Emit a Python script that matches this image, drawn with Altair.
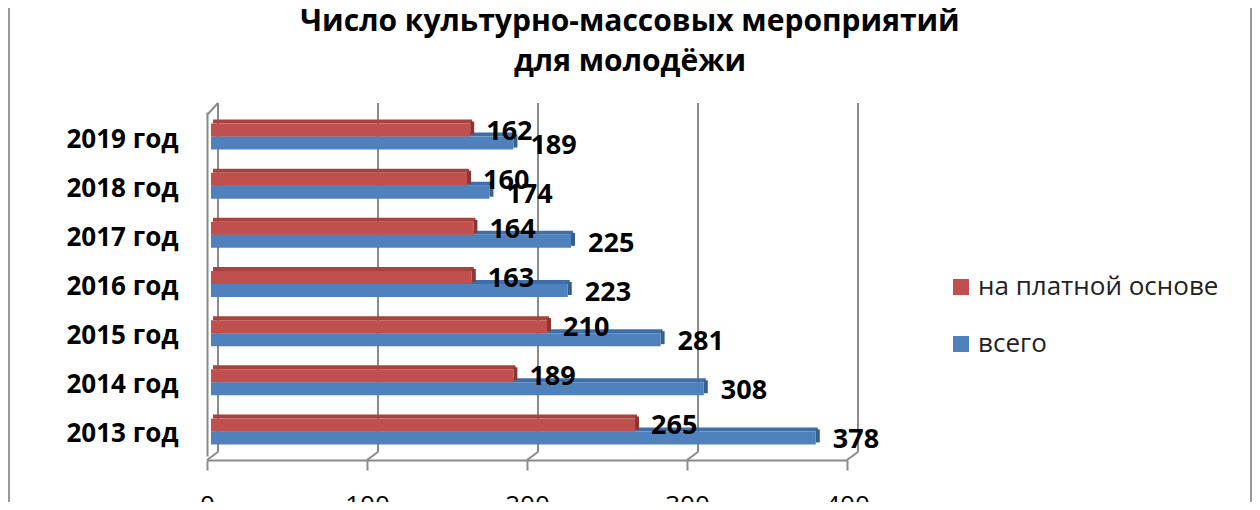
import altair as alt
import pandas as pd

years = ["2019 год", "2018 год", "2017 год\u2002", "2016 год", "2015 год", "2014 год", "2013 год"]
paid = [162, 160, 164, 163, 210, 189, 265]
total = [189, 174, 225, 223, 281, 308, 378]
series = ["на платной основе", "всего"]
tick_values = [0, 100, 200, 300, 400]
colors = ["#C0504D", "#4F81BD"]
top_colors = ["#A8423F", "#3F6FA6"]
cap_colors = ["#8E3532", "#355F93"]

rows = []
for y, p, t in zip(years, paid, total):
    rows.append({"year": y, "series": series[0], "value": p})
    rows.append({"year": y, "series": series[1], "value": t})
df = pd.DataFrame(rows)
ticks_df = pd.DataFrame({"t": tick_values})
one = pd.DataFrame({"a": [0]})

FONT = "Open Sans"
GRAY = "#8A8A8A"

xscale = alt.Scale(domain=[0, 400], nice=False, zero=True)
yscale = alt.Scale(domain=years, paddingInner=0, paddingOuter=0)

xaxis = alt.Axis(
    values=tick_values, grid=False, title=None, domainColor=GRAY, domainWidth=2,
    tickColor=GRAY, tickWidth=2, tickSize=10, labelFontSize=26, labelFont=FONT,
    labelColor="black", labelPadding=22, position=-4, offset=4, labelFlush=False)
yaxis = alt.Axis(
    title=None, ticks=False, domainColor=GRAY, domainWidth=2, labelFontSize=26,
    labelFont=FONT, labelFontWeight="bold", labelColor="black", labelPadding=29,
    offset=4, labelOffset=3, grid=False, labelLimit=300)

X = alt.X("value:Q", scale=xscale, axis=xaxis)
XT = alt.X("t:Q", scale=xscale, axis=xaxis)
Y = alt.Y("year:N", scale=yscale, axis=yaxis, sort=years)

COLOR = alt.Color("series:N", scale=alt.Scale(domain=series, range=colors),
                  legend=alt.Legend(orient="none", legendX=737, legendY=162, title=None,
                                    symbolType="square", symbolSize=256,
                                    symbolStrokeWidth=0, labelFontSize=26,
                                    labelFont=FONT, labelColor="#222222", labelLimit=400,
                                    rowPadding=31, labelOffset=4, padding=0))

base = alt.Chart(df)

# back gridlines
grid = alt.Chart(ticks_df).mark_rule(xOffset=7, color=GRAY, strokeWidth=2).encode(
    x=XT, y=alt.value(-9), y2=alt.value(340))

floor = alt.Chart(ticks_df).mark_rule(xOffset=7, x2Offset=-4, color=GRAY, strokeWidth=2).encode(
    x=XT, x2="t:Q", y=alt.value(340), y2=alt.value(348))

wall_top = alt.Chart(ticks_df).transform_filter("datum.t == 0").mark_rule(
    xOffset=-4, x2Offset=7, color=GRAY, strokeWidth=2).encode(
    x=XT, x2="t:Q", y=alt.value(3), y2=alt.value(-9))


def layers_for(i, front_off):
    d = base.transform_filter(alt.datum.series == series[i])
    top = d.mark_bar(size=4, yOffset=front_off - 8.5, xOffset=2, x2Offset=4,
                     color=top_colors[i]).encode(x=X, y=Y)
    cap = d.mark_bar(size=13, yOffset=front_off - 2, x2Offset=4, color=cap_colors[i]).encode(
        x=X, x2="value:Q", y=Y)
    front = d.mark_bar(size=13, yOffset=front_off).encode(x=X, y=Y, color=COLOR)
    return [top, cap, front]


blue = layers_for(1, 6.5)
red = layers_for(0, -6.5)

lab_red = base.transform_filter(alt.datum.series == series[0]).mark_text(
    align="left", baseline="middle", dx=16, dy=-5, fontSize=27, font=FONT,
    fontWeight="bold", color="black").encode(x=X, y=Y, text="value:Q")
lab_blue = base.transform_filter(alt.datum.series == series[1]).mark_text(
    align="left", baseline="middle", dx=17, dy=9, fontSize=27, font=FONT,
    fontWeight="bold", color="black").encode(x=X, y=Y, text="value:Q")

frame_l = alt.Chart(one).mark_rule(color="#9A9A9A", strokeWidth=2).encode(
    x=alt.value(-202), y=alt.value(-104), y2=alt.value(390))
frame_r = alt.Chart(one).mark_rule(color="#9A9A9A", strokeWidth=2).encode(
    x=alt.value(1040), y=alt.value(-104), y2=alt.value(390))

chart = alt.layer(
    grid, floor, wall_top, *blue, *red, lab_red, lab_blue, frame_l, frame_r
).properties(
    width=640, height=344,
    padding={"left": 203, "top": 104, "right": 401, "bottom": 46},
    autosize=alt.AutoSizeParams(type="none"),
    background="white",
    title=alt.TitleParams(["Число культурно-массовых мероприятий", "для молодёжи"],
                          fontSize=30, font=FONT, fontWeight="bold", lineHeight=40,
                          dx=99, offset=-70, color="black"),
).configure_view(stroke=None)

chart.save("out.html", embed_options={"renderer": "svg", "actions": False})
